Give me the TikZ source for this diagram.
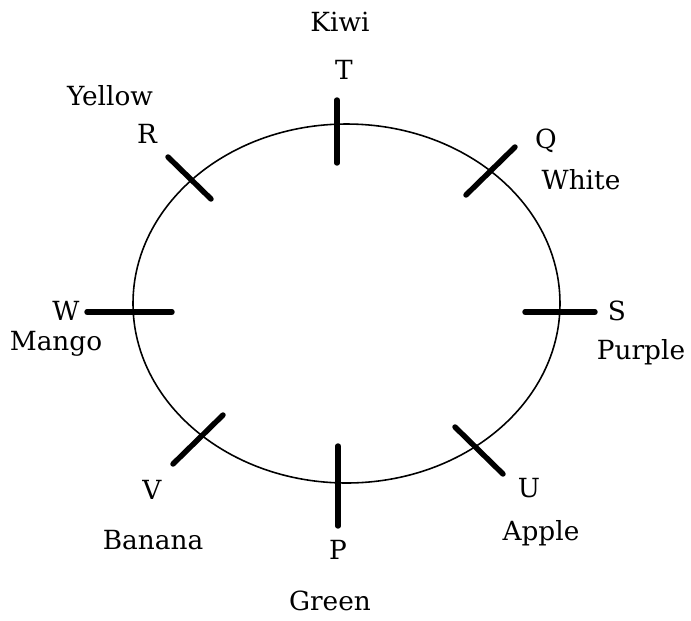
\documentclass[tikz,border=0pt]{standalone}
\usepackage{fontspec}
\setmainfont{DejaVu Serif}
\begin{document}
\begin{tikzpicture}[x=0.02cm, y=-0.02cm, font=\fontsize{15}{17}\selectfont,
    tick/.style={line width=3.1pt, line cap=round}]
    \useasboundingbox (0,0) rectangle (691,620);

    \draw[line width=0.9pt] (346.5,303.5) ellipse (213.5 and 179.5);

    \draw[tick] (337,100) -- (337,163);
    \draw[tick] (338,446) -- (338,526);
    \draw[tick] (87,312) -- (172,312);
    \draw[tick] (525,312) -- (595,312);
    \draw[tick] (168,157) -- (211,199);
    \draw[tick] (466,195) -- (515,147);
    \draw[tick] (173,464) -- (223,415);
    \draw[tick] (455,427) -- (503,474);

    \node (kiwi) at (340,22) {Kiwi};
    \node (t) at (344,70) {T};
    \node (yellow) at (110,96) {Yellow};
    \node (r) at (147,134) {R};
    \node (q) at (546,141) {Q};
    \node (white) at (581,180) {White};
    \node (w) at (66,311) {W};
    \node (mango) at (56,344) {Mango};
    \node (s) at (617,311) {S};
    \node (purple) at (641,352) {Purple};
    \node (v) at (152,490) {V};
    \node (banana) at (153,540) {Banana};
    \node (p) at (338,550) {P};
    \node (green) at (330,601) {Green};
    \node (u) at (529,488) {U};
    \node (apple) at (541,533) {Apple};
\end{tikzpicture}
\end{document}
